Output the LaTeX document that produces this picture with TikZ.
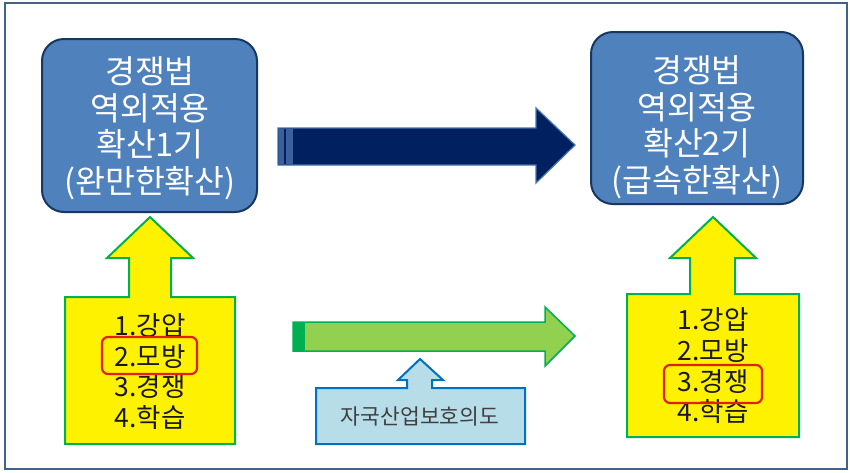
\documentclass[tikz,border=0pt]{standalone}
\usepackage{fontspec}
\setmainfont{Noto Sans CJK KR}
\definecolor{framec}{HTML}{41638A}
\definecolor{boxfill}{HTML}{4F81BD}
\definecolor{boxline}{HTML}{17375E}
\definecolor{navyfill}{HTML}{002060}
\definecolor{navyline}{HTML}{4A72B0}
\definecolor{navystripe}{HTML}{3D5F9E}
\definecolor{lgreen}{HTML}{92D050}
\definecolor{dgreen}{HTML}{00B050}
\definecolor{lblue}{HTML}{B7DEE8}
\definecolor{mblue}{HTML}{0070C0}
\definecolor{redc}{HTML}{E02010}
\definecolor{txtgray}{HTML}{404040}
\begin{document}
\begin{tikzpicture}[x=1pt,y=-1pt,
  bluebox/.style={draw=boxline, fill=boxfill, line width=2pt, rounded corners=22pt, inner sep=0pt},
  toptext/.style={text=white, align=center, font=\fontsize{32.5}{36.5}\selectfont, inner sep=0pt},
  listtext/.style={text=black!90, align=center, font=\fontsize{26.5}{30.7}\selectfont, inner sep=0pt},
  yellowarrow/.style={draw=dgreen, fill=yellow, line width=2pt, line join=miter},
  redbox/.style={draw=redc, line width=2.2pt, rounded corners=6pt, minimum width=95pt, minimum height=37pt, inner sep=0pt}]
\useasboundingbox (0,0) rectangle (850,472);
\fill[white] (0,0) rectangle (850,472);
\draw[framec, line width=2.2pt] (5,3) rectangle (847,469);

% top boxes
\node[bluebox, minimum width=215pt, minimum height=173pt] (b1) at (149.5,125.5) {};
\node[toptext] (t1) at (150,128) {경쟁법\\역외적용\\확산1기\\(완만한확산)};
\node[bluebox, minimum width=212pt, minimum height=172pt] (b2) at (697,118) {};
\node[toptext] (t2) at (697,127) {경쟁법\\역외적용\\확산2기\\(급속한확산)};

% dark arrow
\draw[fill=navyfill, draw=navyline, line width=1.2pt]
  (278,128) -- (536,128) -- (536,108) -- (575,145) -- (536,183) -- (536,165) -- (278,165) -- cycle;
\fill[navystripe] (279,129) rectangle (293,164);
\draw[navyfill, line width=2pt] (285,129) -- (285,164);

% green arrow
\draw[fill=lgreen, draw=dgreen, line width=1.5pt]
  (293,322) -- (545,322) -- (545,307) -- (575,336) -- (545,366) -- (545,351) -- (293,351) -- cycle;
\fill[dgreen] (293,322) rectangle (305,351);

% blue up-arrow box
\draw[fill=lblue, draw=mblue, line width=2pt]
  (316,388) -- (407,388) -- (407,380) -- (398,380) -- (420,359) -- (443,380) -- (432,380) -- (432,388)
  -- (525,388) -- (525,444) -- (316,444) -- cycle;
\node[text=txtgray, font=\fontsize{21.5}{24}\selectfont, inner sep=0pt] (p) at (420,416) {자국산업보호의도};

% yellow arrows
\draw[yellowarrow]
  (65,297) -- (129,297) -- (129,258) -- (107,258) -- (150,217) -- (193,258) -- (171,258) -- (171,297)
  -- (235,297) -- (235,444) -- (65,444) -- cycle;
\draw[yellowarrow]
  (627,294) -- (690,294) -- (690,258) -- (670,258) -- (713,217) -- (756,258) -- (735,258) -- (735,294)
  -- (799,294) -- (799,437) -- (627,437) -- cycle;

\node[listtext] (l1) at (150,371.5) {1.강압\\2.모방\\3.경쟁\\4.학습};
\node[listtext] (l2) at (713,366) {1.강압\\2.모방\\3.경쟁\\4.학습};

\node[redbox] (r1) at (149.5,355.5) {};
\node[redbox, minimum width=98pt, minimum height=38pt] (r2) at (713,384) {};
\end{tikzpicture}
\end{document}
